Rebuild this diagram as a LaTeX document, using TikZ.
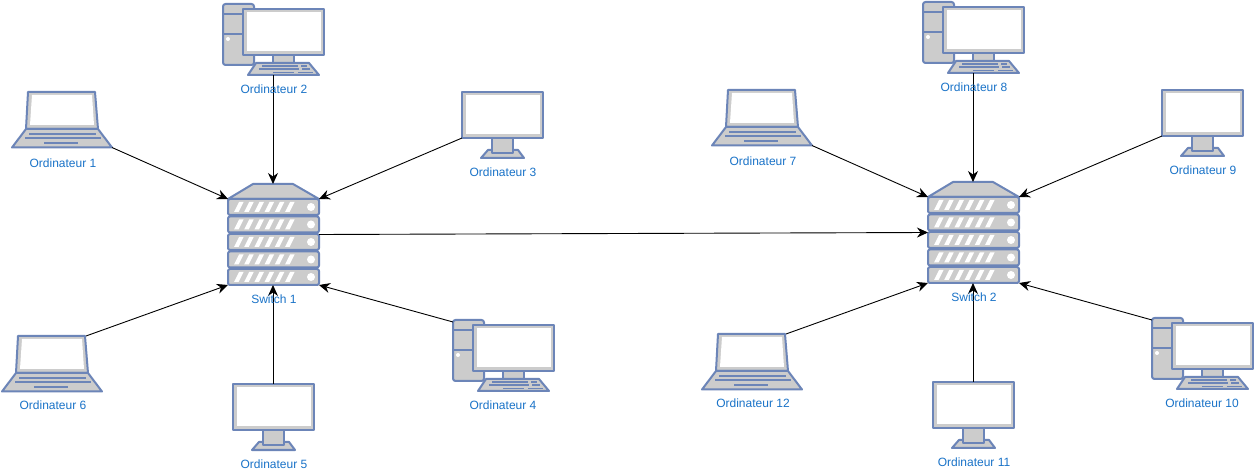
\documentclass[tikz,border=0pt]{standalone}
\usepackage{fontspec}
\setmainfont{Liberation Sans}
\usetikzlibrary{arrows.meta}
\definecolor{icoline}{HTML}{6C85B8}
\definecolor{icofill}{HTML}{CCCCCC}
\definecolor{lblcol}{HTML}{1A73C8}
\tikzset{
  ico/.style={draw=icoline,line width=2pt,fill=icofill,line join=round},
  keyline/.style={draw=icoline,line width=1.8pt},
  screen/.style={fill=white,draw=none},
  lbl/.style={text=lblcol,font=\fontsize{12}{14}\selectfont,inner sep=0pt},
  link/.style={draw=black,line width=0.9pt,-{Stealth[length=11pt,width=10pt]}},
  desktopicon/.pic={
    \draw[ico,rounded corners=2.5pt] (0,0) rectangle (31,61);
    \draw[keyline] (0,10) -- (31,10) (0,30) -- (31,30);
    \fill[white] (5,35) circle (2);
    \draw[ico] (50,51) rectangle (71,59);
    \draw[ico] (33,59) -- (86,59) -- (96,71) -- (25,71) -- cycle;
    \draw[keyline,line width=1.5pt] (39,61.8) -- (75,61.8) (36,65) -- (76,65) (50,68.3) -- (71,68.3) (78,61.8) -- (84,61.8) (79,65) -- (87,65) (75,68.3) -- (90,68.3);
    \draw[ico] (20,5) rectangle (101,51);
    \fill[screen] (23.5,8.5) rectangle (97.5,47.5);
    \coordinate (-b) at (50,71);
    \coordinate (-tl) at (0,2);
  },
  monitoricon/.pic={
    \draw[ico] (26,58) -- (56,58) -- (62,66) -- (19,66) -- cycle;
    \draw[ico] (30,46) rectangle (51,61);
    \draw[ico] (0,0) rectangle (81,46);
    \fill[screen] (3.5,3.5) rectangle (77.5,42.5);
    \coordinate (-t) at (40,0);
    \coordinate (-bl) at (0,46);
  },
  laptopicon/.pic={
    \draw[ico] (16,0) -- (83,0) -- (86,37) -- (14,37) -- cycle;
    \fill[screen] (20,3) -- (80,3) -- (82,33) -- (18,33) -- cycle;
    \draw[ico] (14,37) -- (86,37) -- (100,55.5) -- (0,55.5) -- cycle;
    \draw[keyline] (17,42) -- (84,42) (13,46) -- (88.5,46) (32,51) -- (66,51);
    \coordinate (-br) at (100,55.5);
    \coordinate (-tr) at (84,0);
  },
  switchicon/.pic={
    \draw[ico] (25,0) -- (65,0) -- (91,15) -- (0,15) -- cycle;
    \foreach \r in {0,17.5,35,52.5,70}{
      \begin{scope}[yshift=-\r pt]
        \draw[ico,rounded corners=2pt] (0,15) rectangle (91,31);
        \foreach \s in {0,...,5}
          \fill[white,xshift=\s*10.2pt] (6,28) -- (11,18) -- (15.5,18) -- (10.5,28) -- cycle;
        \fill[white] (83,23) circle (4);
      \end{scope}
    }
    \coordinate (-tl) at (0,15);
    \coordinate (-t) at (45,0);
    \coordinate (-tr) at (91,15);
    \coordinate (-r) at (91,50.5);
    \coordinate (-l) at (0,50.5);
    \coordinate (-bl) at (0,101);
    \coordinate (-b) at (45,101);
    \coordinate (-br) at (91,101);
  },
}
\begin{document}
\begin{tikzpicture}[x=1pt,y=-1pt]
\useasboundingbox (0,0) rectangle (1254,470);
\fill[white] (0,0) rectangle (1254,470);
% left group
\pic (s1) at (228,184) {switchicon};
\pic (c1) at (12,92) {laptopicon};
\pic (c2) at (223,4) {desktopicon};
\pic (c3) at (462,92) {monitoricon};
\pic (c4) at (453,320) {desktopicon};
\pic (c5) at (233,384) {monitoricon};
\pic (c6) at (2,336) {laptopicon};
% right group
\pic (s2) at (928,182) {switchicon};
\pic (c7) at (712,90) {laptopicon};
\pic (c8) at (923,2) {desktopicon};
\pic (c9) at (1162,90) {monitoricon};
\pic (c10) at (1152,318) {desktopicon};
\pic (c11) at (933,382) {monitoricon};
\pic (c12) at (702,334) {laptopicon};
% connectors
\draw[link] (c1-br) -- (s1-tl);
\draw[link] (c2-b) -- (s1-t);
\draw[link] (c3-bl) -- (s1-tr);
\draw[link] (c4-tl) -- (s1-br);
\draw[link] (c5-t) -- (s1-b);
\draw[link] (c6-tr) -- (s1-bl);
\draw[link] (s1-r) -- (s2-l);
\draw[link] (c7-br) -- (s2-tl);
\draw[link] (c8-b) -- (s2-t);
\draw[link] (c9-bl) -- (s2-tr);
\draw[link] (c10-tl) -- (s2-br);
\draw[link] (c11-t) -- (s2-b);
\draw[link] (c12-tr) -- (s2-bl);
% labels
\node[lbl] (t1) at (63,163) {Ordinateur 1};
\node[lbl] (t2) at (274,89) {Ordinateur 2};
\node[lbl] (t3) at (503,172) {Ordinateur 3};
\node[lbl] (t4) at (503,405) {Ordinateur 4};
\node[lbl] (t5) at (274,464) {Ordinateur 5};
\node[lbl] (t6) at (53,405) {Ordinateur 6};
\node[lbl] (ts1) at (274,299) {Switch 1};
\node[lbl] (t7) at (763,161) {Ordinateur 7};
\node[lbl] (t8) at (974,87) {Ordinateur 8};
\node[lbl] (t9) at (1203,170) {Ordinateur 9};
\node[lbl] (t10) at (1202,403) {Ordinateur 10};
\node[lbl] (t11) at (974,462) {Ordinateur 11};
\node[lbl] (t12) at (753,403) {Ordinateur 12};
\node[lbl] (ts2) at (974,297) {Switch 2};
\end{tikzpicture}
\end{document}
